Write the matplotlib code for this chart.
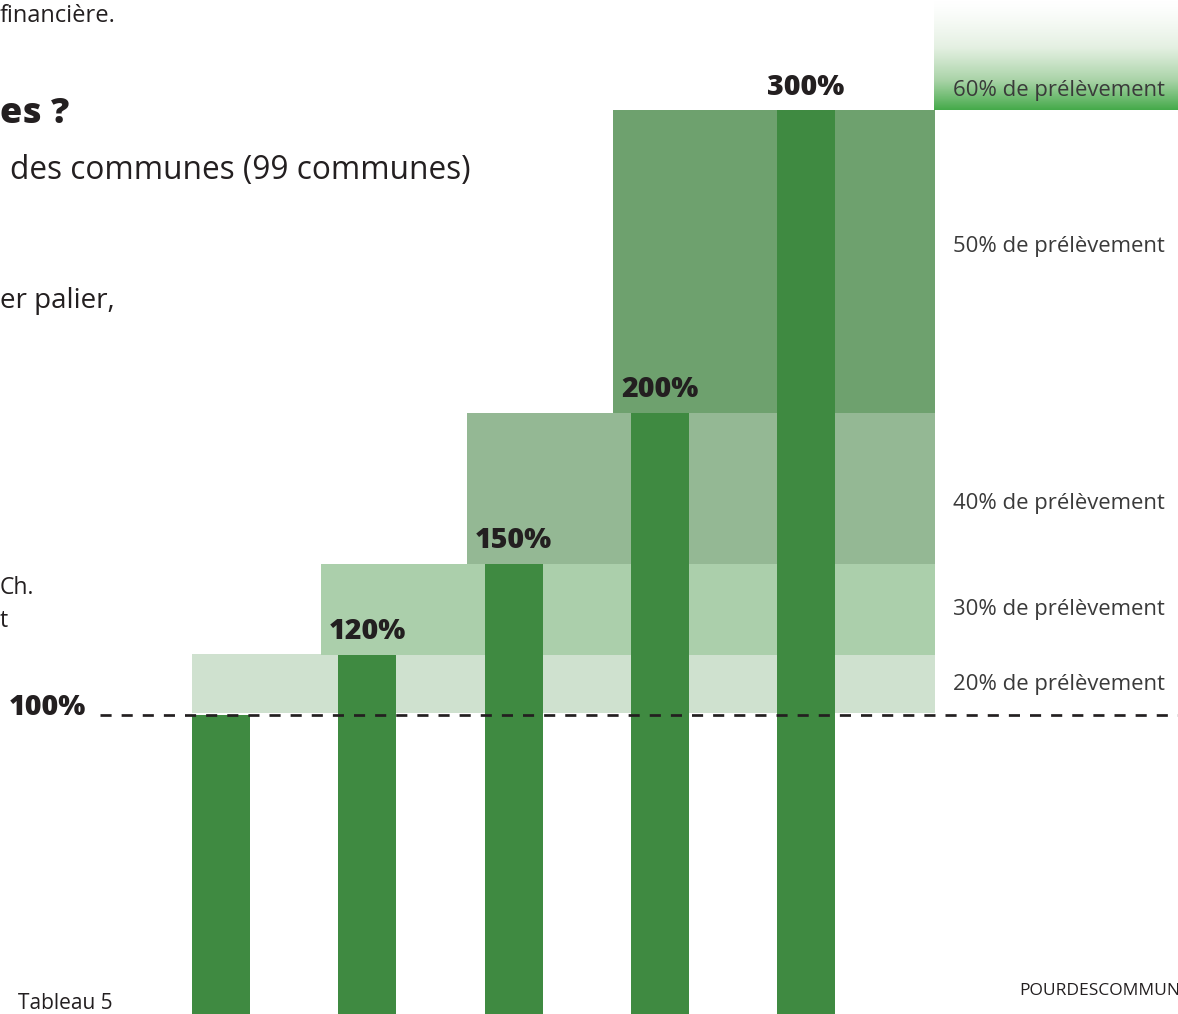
import numpy as np
import matplotlib
matplotlib.use('Agg')
import matplotlib.pyplot as plt
from matplotlib.colors import LinearSegmentedColormap

plt.rcParams['font.family'] = ['Open Sans', 'DejaVu Sans']

# donnees
niveaux = [100, 120, 150, 200, 300]          # hauteur des barres en %
etiquettes = ['100%', '120%', '150%', '200%', '300%']
paliers_bas = [100, 120, 150, 200, 300]      # debut de chaque palier
paliers_haut = [120, 150, 200, 300, 340]     # fin de chaque palier
paliers_debut = [0, 1, 2, 3, 5]              # barre ou commence le palier
prelevements = ['20% de prélèvement', '30% de prélèvement', '40% de prélèvement',
                '50% de prélèvement', '60% de prélèvement']
prelev_y = [110, 135, 170, 255, 306.6]

couleurs_paliers = ['#cfe1cf', '#abcfab', '#94b894', '#6ea16e']
vert_barre = '#3f8a41'
noir = '#231f20'

W, H = 1178, 1014
fig = plt.figure(figsize=(W / 100, H / 100), dpi=100)
ax = fig.add_axes([0, 0, 1, 1])

pas = 146.25
x0 = 221
xmin, xmax = -x0 / pas, (W - x0) / pas
ymin, ymax = 100 - (H - 715) / 3.025, 100 + 715 / 3.025
ax.set_xlim(xmin, xmax)
ax.set_ylim(ymin, ymax)
ax.axis('off')

larg = 58 / pas
x = np.arange(len(niveaux))
fin_palier = (935 - x0) / pas

# paliers
for i in range(4):
    deb = paliers_debut[i]
    gauche = x[deb] - larg / 2 - (0 if deb == 0 else 0.12)
    bas = paliers_bas[i] + (0.6 if i == 0 else 0)
    ax.bar(gauche, paliers_haut[i] - bas, bottom=bas, width=fin_palier - gauche,
           align='edge', color=couleurs_paliers[i], linewidth=0, zorder=1)

# palier 60% en degrade (blanc en haut, vert en bas)
cmap = LinearSegmentedColormap.from_list('deg', ['#ffffff', '#e4f0e2', '#a9d3a7', '#45aa4a'])
grad = (np.linspace(0, 1, 256) ** 1.3).reshape(-1, 1)
ax.imshow(grad, cmap=cmap, aspect='auto', zorder=1,
          extent=[fin_palier - 0.005, xmax, paliers_bas[4], ymax], origin='upper')

# barres
ax.bar(x, niveaux, width=larg, color=vert_barre, linewidth=0, zorder=2)

# ligne 100%
ax.plot([(100 - x0) / pas, xmax], [100, 100], color=noir, lw=1.95,
        dashes=(4.1, 3.7), zorder=3)

for i in range(1, len(niveaux)):
    ax.text(x[i], niveaux[i] + 2.8, etiquettes[i], ha='center', va='bottom',
            fontsize=20.5, fontweight=800, color=noir, zorder=4)
ax.text((86 - x0) / pas, 102.6, etiquettes[0], ha='right', va='center',
        fontsize=20.5, fontweight=800, color=noir)

for lab, yy in zip(prelevements, prelev_y):
    ax.text((953 - x0) / pas, yy, lab, ha='left', va='center', fontsize=15.9,
            color='#3a3a3a', zorder=4)

# texte du document (coupe)
def ftxt(px, py, s, **kw):
    fig.text(px / W, 1 - py / H, s, color=noir, va='baseline', **kw)

ftxt(0, 22, 'financière.', fontsize=17)
ftxt(0, 123, 'es ?', fontsize=26, fontweight=800)
ftxt(10, 179, 'des communes (99 communes)', fontsize=22.8)
ftxt(0, 308, 'er palier,', fontsize=20)
ftxt(0, 594, 'Ch.', fontsize=16.5)
ftxt(0, 627, 't', fontsize=16.5)
ftxt(18, 1009, 'Tableau 5', fontsize=15)
ftxt(1019, 995, 'POURDESCOMMUN', fontsize=12.5)

fig.savefig('out.png', dpi=100)
